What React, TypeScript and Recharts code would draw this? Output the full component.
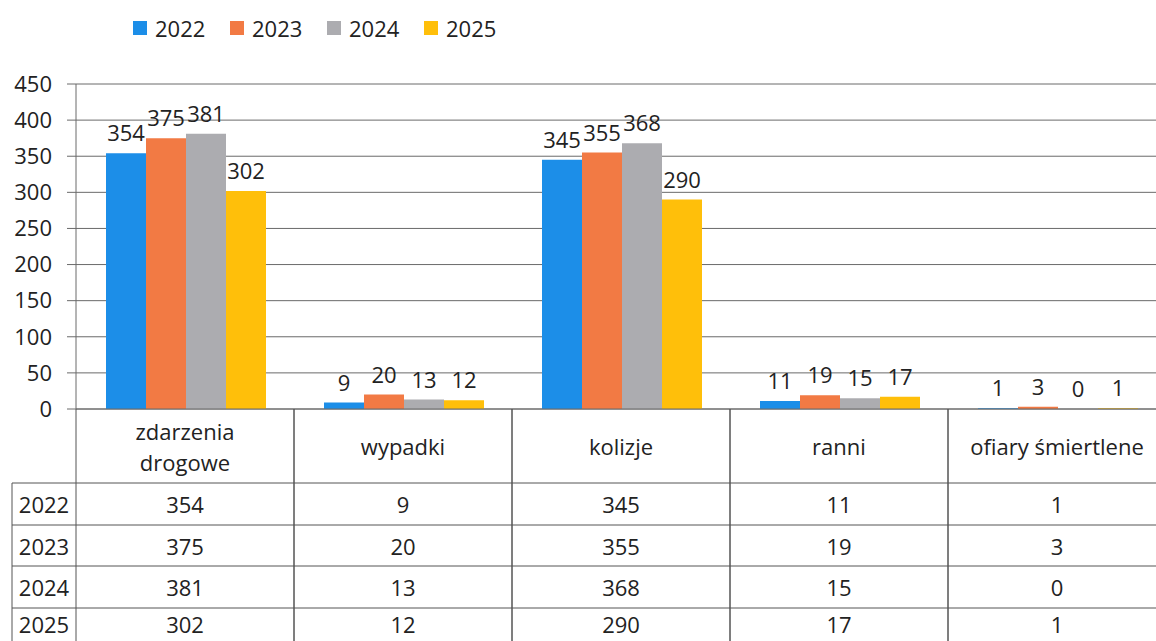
import React from 'react';
import { BarChart, Bar, XAxis, YAxis, CartesianGrid, LabelList } from 'recharts';

const categories = ['zdarzenia drogowe', 'wypadki', 'kolizje', 'ranni', 'ofiary śmiertlene'];
const categoryLines = [['zdarzenia', 'drogowe'], ['wypadki'], ['kolizje'], ['ranni'], ['ofiary śmiertlene']];
const years = ['2022', '2023', '2024', '2025'];
const values2022 = [354, 9, 345, 11, 1];
const values2023 = [375, 20, 355, 19, 3];
const values2024 = [381, 13, 368, 15, 0];
const values2025 = [302, 12, 290, 17, 1];
const yTicks = [0, 50, 100, 150, 200, 250, 300, 350, 400, 450];
const colors = ['#1c8ee8', '#f27a44', '#acacb0', '#ffbf0a'];

const seriesValues = [values2022, values2023, values2024, values2025];

const data = categories.map((name, i) => ({
  name,
  y2022: values2022[i],
  y2023: values2023[i],
  y2024: values2024[i],
  y2025: values2025[i],
}));

const FONT = '"Open Sans", "Noto Sans", sans-serif';
const FS = 22;
const TEXT = '#222';
const GRID = '#6a6a6a';
const TABLE_LINE = '#555';

const CHART_W = 1180;
const CHART_H = 641;
const PLOT_LEFT = 76;
const PLOT_RIGHT_MARGIN = 14;
const PLOT_W = CHART_W - PLOT_LEFT - PLOT_RIGHT_MARGIN;
const BAND = PLOT_W / categories.length;
const AXIS_Y = 409;
const ROW_LINES = [483, 525, 566, 608, 650];

// keeps a zero-value bar in the layout so its "0" label is still drawn
const zeroKeep = (v: number) => (v === 0 ? 0.01 : 0);

// row text centre, the last row is partly below the picture edge
const rowMid = (r: number) => Math.min((ROW_LINES[r] + ROW_LINES[r + 1]) / 2, CHART_H - 17);

const TableTick = (props: any) => {
  const { x, index } = props;
  const left = x - BAND / 2;
  const right = x + BAND / 2;
  const lines = categoryLines[index] || [categories[index]];
  const headerMid = (AXIS_Y + ROW_LINES[0]) / 2;
  return (
    <g>
      <line x1={left} x2={left} y1={AXIS_Y} y2={CHART_H} stroke={TABLE_LINE} />
      <line x1={right} x2={right} y1={AXIS_Y} y2={CHART_H} stroke={TABLE_LINE} />
      {ROW_LINES.map((ry) => (
        <line key={ry} x1={left} x2={right} y1={ry} y2={ry} stroke={TABLE_LINE} />
      ))}
      {lines.map((t, li) => (
        <text
          key={t}
          x={x}
          y={headerMid + (li - (lines.length - 1) / 2) * 31}
          textAnchor="middle"
          dominantBaseline="central"
          fontSize={FS}
          fill={TEXT}
        >
          {t}
        </text>
      ))}
      {seriesValues.map((vals, r) => (
        <text
          key={r}
          x={x}
          y={rowMid(r)}
          textAnchor="middle"
          dominantBaseline="central"
          fontSize={FS}
          fill={TEXT}
        >
          {vals[index]}
        </text>
      ))}
      {index === 0 && (
        <g>
          <line x1={12} x2={12} y1={ROW_LINES[0]} y2={CHART_H} stroke={TABLE_LINE} />
          {ROW_LINES.map((ry) => (
            <line key={ry} x1={12} x2={left} y1={ry} y2={ry} stroke={TABLE_LINE} />
          ))}
          {years.map((yr, r) => (
            <text
              key={yr}
              x={(12 + left) / 2}
              y={rowMid(r)}
              textAnchor="middle"
              dominantBaseline="central"
              fontSize={FS}
              fill={TEXT}
            >
              {yr}
            </text>
          ))}
        </g>
      )}
    </g>
  );
};

export default function App() {
  return (
    <div
      style={{
        position: 'absolute',
        left: 0,
        top: 0,
        width: 1156,
        height: 641,
        overflow: 'hidden',
        background: '#fff',
        fontFamily: FONT,
      }}
    >
      <div style={{ position: 'absolute', left: 133, top: 13, display: 'flex', fontSize: FS, color: TEXT }}>
        {years.map((yr, i) => (
          <div key={yr} style={{ display: 'flex', alignItems: 'center', width: 97 }}>
            <span style={{ width: 14, height: 14, background: colors[i], marginRight: 8, display: 'inline-block' }} />
            <span>{yr}</span>
          </div>
        ))}
      </div>
      <BarChart
        width={CHART_W}
        height={CHART_H}
        data={data}
        margin={{ top: 84, right: PLOT_RIGHT_MARGIN, bottom: 0, left: 0 }}
        barCategoryGap={30}
        barGap={0}
        style={{ fontFamily: FONT }}
      >
        <CartesianGrid vertical={false} stroke={GRID} />
        <YAxis
          width={PLOT_LEFT}
          domain={[0, 450]}
          ticks={yTicks}
          interval={0}
          tickSize={9}
          tickMargin={15}
          axisLine={{ stroke: GRID }}
          tickLine={{ stroke: GRID }}
          tick={{ fontSize: FS, fill: TEXT }}
        />
        <XAxis
          dataKey="name"
          height={CHART_H - AXIS_Y}
          interval={0}
          tickSize={0}
          tickMargin={0}
          axisLine={{ stroke: GRID }}
          tickLine={false}
          tick={<TableTick />}
        />
        {years.map((yr, i) => (
          <Bar
            key={yr}
            dataKey={`y${yr}`}
            fill={colors[i]}
            minPointSize={zeroKeep}
            isAnimationActive={false}
          >
            <LabelList dataKey={`y${yr}`} position="top" offset={12} fontSize={FS} fill={TEXT} />
          </Bar>
        ))}
      </BarChart>
    </div>
  );
}
